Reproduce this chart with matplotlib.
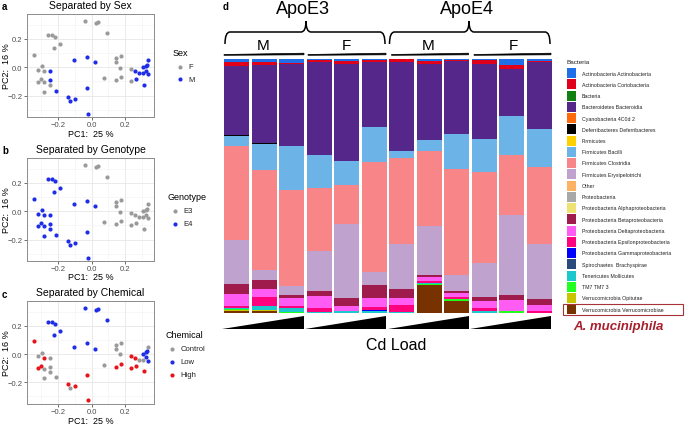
import matplotlib
matplotlib.use("Agg")
import matplotlib.pyplot as plt
import numpy as np
from matplotlib.patches import Rectangle, Polygon, PathPatch
from matplotlib.path import Path

plt.rcParams['font.family'] = ['Liberation Sans', 'DejaVu Sans']

# ---------------- PCA data ----------------
pc1 = [-0.341, -0.039, 0.029, 0.037, 0.094, -0.255, -0.233, -0.214, -0.184, -0.225,
       -0.296, -0.318, -0.284, -0.247, -0.318, -0.298, -0.284, -0.247, -0.247, -0.284,
       -0.212, -0.141, -0.125, -0.100, -0.027, -0.022, -0.104, -0.025, 0.022, 0.071,
       0.145, 0.145, 0.173, 0.169, 0.145, 0.173, 0.231, 0.231, 0.257, 0.265,
       0.280, 0.304, 0.302, 0.324, 0.325, 0.335, 0.331, 0.335, 0.310]
pc2 = [0.089, 0.329, 0.311, 0.318, 0.240, 0.226, 0.226, 0.214, 0.162, 0.136,
       0.009, -0.016, -0.026, -0.028, -0.101, -0.085, -0.104, -0.092, -0.125, -0.172,
       -0.165, -0.212, -0.240, -0.224, -0.148, -0.329, 0.049, 0.075, 0.038, -0.078,
       0.064, 0.035, 0.080, -0.002, -0.089, -0.071, -0.014, -0.096, -0.028, -0.085,
       -0.042, -0.040, 0.000, -0.024, 0.012, 0.052, 0.019, -0.047, -0.122]
sex = ['F', 'F', 'F', 'F', 'F', 'F', 'F', 'F', 'F', 'F',
       'F', 'F', 'F', 'M', 'F', 'F', 'F', 'M', 'F', 'F',
       'M', 'M', 'M', 'M', 'M', 'M', 'M', 'M', 'M', 'F',
       'F', 'F', 'F', 'F', 'F', 'F', 'F', 'F', 'M', 'M',
       'M', 'M', 'M', 'M', 'M', 'M', 'M', 'M', 'M']
genotype = ['E4', 'E3', 'E3', 'E3', 'E3', 'E4', 'E4', 'E4', 'E4', 'E4',
            'E4', 'E4', 'E4', 'E4', 'E4', 'E4', 'E4', 'E4', 'E4', 'E4',
            'E4', 'E4', 'E4', 'E4', 'E4', 'E4', 'E4', 'E4', 'E4', 'E3',
            'E3', 'E3', 'E3', 'E3', 'E3', 'E3', 'E3', 'E3', 'E3', 'E3',
            'E3', 'E3', 'E3', 'E3', 'E3', 'E3', 'E3', 'E3', 'E3']
chemical = ['High', 'Low', 'Low', 'Low', 'Low', 'Low', 'Low', 'Low', 'Low', 'Low',
            'Control', 'Control', 'High', 'Control', 'High', 'High', 'Control', 'Control', 'Control', 'Control',
            'Control', 'High', 'Control', 'High', 'High', 'High', 'Low', 'Low', 'Low', 'Control',
            'Control', 'Control', 'Control', 'Control', 'High', 'High', 'High', 'High', 'High', 'High',
            'Control', 'Control', 'Low', 'Low', 'Low', 'Control', 'Low', 'Low', 'High']

# ---------------- Bar data (% relative abundance) ----------------
taxa = ["Actinobacteria Actinobacteria", "Actinobacteria Coriobacteria", "Bacteria",
        "Bacteroidetes Bacteroidia", "Cyanobacteria 4C0d 2", "Deferribacteres Deferribacteres",
        "Firmicutes", "Firmicutes Bacilli", "Firmicutes Clostridia", "Firmicutes Erysipelotrichi",
        "Other", "Proteobacteria", "Proteobacteria Alphaproteobacteria",
        "Proteobacteria Betaproteobacteria", "Proteobacteria Deltaproteobacteria",
        "Proteobacteria Epsilonproteobacteria", "Proteobacteria Gammaproteobacteria",
        "Spirochaetes  Brachyspirae", "Tenericutes Mollicutes", "TM7 TM7 3",
        "Verrucomicrobia Opitutae", "Verrucomicrobia Verrucomicrobiae"]
taxa_colors = ["#1f6fe8", "#e0001b", "#108010", "#56278a", "#ff6a0a", "#000000",
               "#ffd000", "#6cb4e8", "#f88689", "#bfa2cd", "#fdb162", "#a8a8a8",
               "#ede272", "#9e1b4b", "#ff5cf4", "#ff007f", "#0000ff", "#2a4a7c",
               "#1cc8cc", "#20ff20", "#c8c400", "#783200"]

# values per bar (12 bars), keyed by taxon
abund = {
 "Actinobacteria Actinobacteria":       [1.1, 1.1, 1.7, 0.4, 0.7, 0.4, 0.1, 0.7, 0.4, 0.4, 2.4, 0.7],
 "Actinobacteria Coriobacteria":        [1.6, 1.2, 0.3, 0.7, 1.3, 0.7, 1.2, 1.3, 0.3, 1.6, 1.6, 0.4],
 "Bacteria":                            [0, 0, 0, 0, 0, 0, 0, 0, 0, 0, 0, 0],
 "Bacteroidetes Bacteroidia":           [27.3, 30.9, 32.2, 36.8, 38.1, 25.9, 35.1, 30.0, 28.9, 29.6, 18.7, 26.3],
 "Cyanobacteria 4C0d 2":                [0, 0, 0, 0, 0, 0, 0, 0, 0, 0, 0, 0],
 "Deferribacteres Deferribacteres":     [0.3, 0.4, 0, 0, 0, 0, 0, 0, 0, 0, 0, 0],
 "Firmicutes":                          [0, 0, 0, 0, 0, 0, 0, 0, 0, 0, 0, 0],
 "Firmicutes Bacilli":                  [3.9, 10.3, 17.5, 13.0, 9.5, 13.8, 2.8, 4.2, 13.8, 13.1, 15.1, 15.1],
 "Firmicutes Clostridia":               [37.1, 39.4, 38.1, 25.0, 15.5, 43.2, 33.8, 29.8, 41.9, 35.8, 23.7, 30.5],
 "Firmicutes Erysipelotrichi":          [17.5, 3.8, 3.2, 15.5, 29.3, 5.2, 17.8, 19.1, 6.5, 13.4, 31.7, 21.4],
 "Other":                               [0, 0, 0, 0, 0, 0, 0, 0, 0, 0, 0, 0],
 "Proteobacteria":                      [0, 0, 0, 0, 0, 0, 0, 0, 0, 0, 0, 0],
 "Proteobacteria Alphaproteobacteria":  [0, 0, 0, 0, 0, 0, 0, 0, 0, 0, 0, 0],
 "Proteobacteria Betaproteobacteria":   [3.9, 3.7, 1.5, 2.1, 3.2, 5.1, 3.3, 0.8, 0.5, 1.4, 2.0, 2.5],
 "Proteobacteria Deltaproteobacteria":  [4.9, 3.3, 3.2, 4.9, 1.7, 3.4, 3.0, 1.6, 1.6, 2.9, 4.2, 2.6],
 "Proteobacteria Epsilonproteobacteria":[0.8, 3.6, 0.7, 1.3, 0, 1.2, 2.6, 0.9, 0.8, 1.1, 0, 0.4],
 "Proteobacteria Gammaproteobacteria":  [0, 0, 0, 0, 0, 0.4, 0, 0, 0, 0.1, 0, 0],
 "Spirochaetes  Brachyspirae":          [0, 0, 0, 0, 0, 0, 0, 0, 0, 0, 0, 0],
 "Tenericutes Mollicutes":              [0.4, 1.3, 1.6, 0.3, 0.7, 0.7, 0.3, 0.3, 0.2, 0.6, 0, 0],
 "TM7 TM7 3":                           [0.1, 0, 0.1, 0, 0, 0, 0, 0.4, 0.6, 0, 0.7, 0],
 "Verrucomicrobia Opitutae":            [0.5, 0.6, 0, 0, 0, 0, 0, 0, 0.3, 0, 0, 0],
 "Verrucomicrobia Verrucomicrobiae":    [0.6, 0.5, 0, 0, 0, 0, 0, 11.0, 4.4, 0, 0, 0],
}

W, H = 685, 427
fig = plt.figure(figsize=(W / 100, H / 100), dpi=100)


def px_rect(x0, y0, x1, y1):
    return [x0 / W, 1 - y1 / H, (x1 - x0) / W, (y1 - y0) / H]


# overlay for annotations (pixel coordinates, y downwards)
ov = fig.add_axes([0, 0, 1, 1], zorder=-1)
ov.set_xlim(0, W)
ov.set_ylim(H, 0)
ov.axis('off')

# ---------------- Scatter panels ----------------
panels = [
    ("Separated by Sex", sex, ["F", "M"], ["#9a9a9a", "#1f2ee6"], (15, 118), 134.5),
    ("Separated by Genotype", genotype, ["E3", "E4"], ["#9a9a9a", "#1f2ee6"], (159, 262), 278),
    ("Separated by Chemical", chemical, ["Control", "Low", "High"],
     ["#9a9a9a", "#1f2ee6", "#e8141c"], (302, 404.5), 421.5),
]
for title, grp, levels, cols, (yt, yb), xl_y in panels:
    ax = fig.add_axes(px_rect(27, yt, 154, yb))
    ax.set_xlim(-0.382, 0.370)
    ax.set_ylim(-0.351, 0.376)
    for lv, c in zip(levels, cols):
        xs = [x for x, g in zip(pc1, grp) if g == lv]
        ys = [y for y, g in zip(pc2, grp) if g == lv]
        ax.scatter(xs, ys, s=9, color=c, linewidths=0, zorder=3)
    ax.set_xticks([-0.2, 0.0, 0.2])
    ax.set_yticks([-0.2, 0.0, 0.2])
    ax.set_xticks([-0.3, -0.1, 0.1, 0.3], minor=True)
    ax.set_yticks([-0.3, -0.1, 0.1, 0.3], minor=True)
    ax.set_xticklabels(["\u22120.2", "0.0", "0.2"])
    ax.set_yticklabels(["\u22120.2", "0.0", "0.2"])
    ax.grid(which='major', color='#e6e6e6', lw=0.6)
    ax.grid(which='minor', color='#f2f2f2', lw=0.4)
    ax.set_axisbelow(True)
    ax.tick_params(which='major', length=2, width=0.5, color='#333333',
                   labelsize=5.5, labelcolor='#4d4d4d', pad=1.2)
    ax.tick_params(which='minor', length=0)
    for sp in ax.spines.values():
        sp.set_color('#8c8c8c')
        sp.set_linewidth(0.7)
    ax.set_title(title, fontsize=7.5, pad=4)
    ov.text(90.5, xl_y, "PC1:  25 %", fontsize=6.5, ha='center', va='center')
    ov.text(7, (yt + yb) / 2, "PC2:  16 %", fontsize=6.5, ha='center', va='center',
            rotation=90)

# ---------------- Bar panel ----------------
axb = fig.add_axes(px_rect(222.7, 60, 553.3, 313.5))
nb = len(abund[taxa[0]])
xpos = np.arange(nb)
vals = np.array([abund[t] for t in taxa], dtype=float)
vals = vals / vals.sum(axis=0) * 100
bottom = np.zeros(nb)
for i in range(len(taxa) - 1, -1, -1):
    axb.bar(xpos, vals[i], width=0.907, bottom=bottom, color=taxa_colors[i],
            edgecolor='none', linewidth=0)
    bottom += vals[i]
axb.set_xlim(-0.5, nb - 0.5)
axb.set_ylim(0, 100)
axb.axis('off')

letters = ["a", "b", "c"]
for let, y in zip(letters, [7, 151, 295]):
    ov.text(2, y, let, fontsize=7, fontweight='bold', va='center', ha='left')
ov.text(223, 7, "d", fontsize=7, fontweight='bold', va='center', ha='left')

# scatter legends
leg_specs = [
    ("Sex", (173, 53), ["F", "M"], ["#9a9a9a", "#1f2ee6"], [67.7, 80]),
    ("Genotype", (168, 198), ["E3", "E4"], ["#9a9a9a", "#1f2ee6"], [211.7, 225]),
    ("Chemical", (165.5, 336), ["Control", "Low", "High"],
     ["#9a9a9a", "#1f2ee6", "#e8141c"], [350, 363, 375.7]),
]
for ttl, (tx, ty), labs, cols, ys in leg_specs:
    ov.text(tx, ty, ttl, fontsize=6.5, va='center', ha='left')
    for lab, c, yy in zip(labs, cols, ys):
        ov.scatter([tx + 7], [yy], s=9, color=c, linewidths=0)
        ov.text(tx + 15, yy, lab, fontsize=5.5, va='center', ha='left', color='#222222')


# top headers
def brace(x0, x1, xc, ytop=33, yend=45, ytip=22):
    r = 5
    verts = [(x0, yend), (x0, ytop), (x0 + r, ytop), (xc - r, ytop), (xc, ytop), (xc, ytip),
             (xc, ytop), (xc + r, ytop), (x1 - r, ytop), (x1, ytop), (x1, yend)]
    codes = [Path.MOVETO, Path.CURVE3, Path.CURVE3, Path.LINETO, Path.CURVE3, Path.CURVE3,
             Path.CURVE3, Path.CURVE3, Path.LINETO, Path.CURVE3, Path.CURVE3]
    ov.add_patch(PathPatch(Path(verts, codes), fill=False, lw=1.1, edgecolor='black'))


brace(225, 385, 306)
brace(389.5, 550, 469)
ov.text(303, 10, "ApoE3", fontsize=13, ha='center', va='center')
ov.text(467, 10, "ApoE4", fontsize=13, ha='center', va='center')
for x, lab in [(263.5, "M"), (346.5, "F"), (428, "M"), (513, "F")]:
    ov.text(x, 46, lab, fontsize=11, ha='center', va='center')
for x0, x1 in [(224, 304), (308, 386), (391.5, 468.5), (474, 551)]:
    ov.add_patch(Polygon([(x0, 56.3), (x1, 55.8), (x1, 54.2), (x0, 55.5)], closed=True,
                         facecolor='black', edgecolor='black', lw=0.5))

# Cd load wedges
for x0, x1 in [(222, 304), (305.5, 386.5), (388, 469), (470, 551.5)]:
    ov.add_patch(Polygon([(x0, 330), (x1, 330), (x1, 316.7)], closed=True,
                         facecolor='black', edgecolor='none'))
ov.text(396, 346, "Cd Load", fontsize=11.5, ha='center', va='center')

# bacteria legend
ov.text(566.7, 62, "Bacteria", fontsize=4.6, ha='left', va='center', color='#222222')
row0, step = 74, 11.25
for i, (t, c) in enumerate(zip(taxa, taxa_colors)):
    yy = row0 + i * step
    ov.add_patch(Rectangle((566.7, yy - 5), 9.3, 10, facecolor=c, edgecolor='none'))
    ov.text(581.7, yy, t, fontsize=3.8, ha='left', va='center', color='#222222')
yl = row0 + 21 * step
ov.add_patch(Rectangle((562.7, yl - 5.5), 120.5, 11, facecolor='none',
                       edgecolor='#a83238', lw=0.8))
ov.text(618, 327, "A. muciniphila", fontsize=9.5, fontweight='bold', fontstyle='italic',
        color='#a8202e', ha='center', va='center')

fig.savefig("out.png", dpi=100)
